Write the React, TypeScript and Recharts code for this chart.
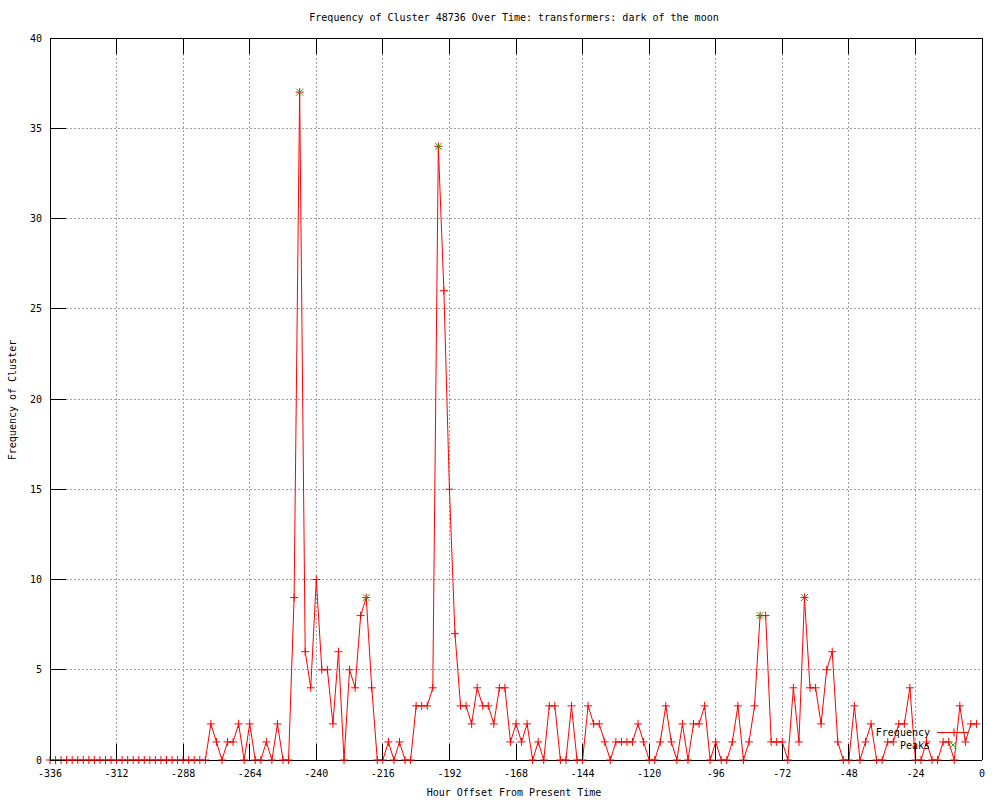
import React from 'react';
import { LineChart, Line, XAxis, YAxis, CartesianGrid, Legend } from 'recharts';

const hourOffsets = [
  -336, -334, -332, -330, -328, -326, -324, -322, -320, -318, -316, -314,
  -312, -310, -308, -306, -304, -302, -300, -298, -296, -294, -292, -290,
  -288, -286, -284, -282, -280, -278, -276, -274, -272, -270, -268, -266,
  -264, -262, -260, -258, -256, -254, -252, -250, -248, -246, -244, -242,
  -240, -238, -236, -234, -232, -230, -228, -226, -224, -222, -220, -218,
  -216, -214, -212, -210, -208, -206, -204, -202, -200, -198, -196, -194,
  -192, -190, -188, -186, -184, -182, -180, -178, -176, -174, -172, -170,
  -168, -166, -164, -162, -160, -158, -156, -154, -152, -150, -148, -146,
  -144, -142, -140, -138, -136, -134, -132, -130, -128, -126, -124, -122,
  -120, -118, -116, -114, -112, -110, -108, -106, -104, -102, -100, -98,
  -96, -94, -92, -90, -88, -86, -84, -82, -80, -78, -76, -74,
  -72, -70, -68, -66, -64, -62, -60, -58, -56, -54, -52, -50,
  -48, -46, -44, -42, -40, -38, -36, -34, -32, -30, -28, -26,
  -24, -22, -20, -18, -16, -14, -12, -10, -8, -6, -4, -2,
];

const frequency = [
  0, 0, 0, 0, 0, 0, 0, 0, 0, 0, 0, 0,
  0, 0, 0, 0, 0, 0, 0, 0, 0, 0, 0, 0,
  0, 0, 0, 0, 0, 2, 1, 0, 1, 1, 2, 0,
  2, 0, 0, 1, 0, 2, 0, 0, 9, 37, 6, 4,
  10, 5, 5, 2, 6, 0, 5, 4, 8, 9, 4, 0,
  0, 1, 0, 1, 0, 0, 3, 3, 3, 4, 34, 26,
  15, 7, 3, 3, 2, 4, 3, 3, 2, 4, 4, 1,
  2, 1, 2, 0, 1, 0, 3, 3, 0, 0, 3, 0,
  0, 3, 2, 2, 1, 0, 1, 1, 1, 1, 2, 1,
  0, 0, 1, 3, 1, 0, 2, 0, 2, 2, 3, 0,
  1, 0, 0, 1, 3, 0, 1, 3, 8, 8, 1, 1,
  1, 0, 4, 1, 9, 4, 4, 2, 5, 6, 1, 0,
  0, 3, 0, 1, 2, 0, 0, 1, 1, 2, 2, 4,
  0, 0, 1, 0, 0, 1, 1, 0, 3, 1, 2, 2,
];

const peakHours = [-246, -222, -196, -80, -64];
const peakValues = [37, 9, 34, 8, 9];

const xTicks = [-336, -312, -288, -264, -240, -216, -192, -168, -144, -120, -96, -72, -48, -24, 0];
const yTicks = [0, 5, 10, 15, 20, 25, 30, 35, 40];

const data = hourOffsets.map((h, i) => {
  const pi = peakHours.indexOf(h);
  return { h, freq: frequency[i], peak: pi >= 0 ? peakValues[pi] : null };
});

const FONT = '"DejaVu Sans Mono", "Liberation Mono", monospace';
const RED = '#ff0000';
const GREEN = '#00c000';
const TICK_LEN = 16;

const PlusDot = (props: any) => {
  const { cx, cy, value } = props;
  if (cx == null || cy == null || value == null || Number.isNaN(cy)) return null;
  return (
    <path
      d={`M${cx - 4},${cy}H${cx + 4}M${cx},${cy - 4}V${cy + 4}`}
      stroke={RED}
      strokeWidth={1}
      fill="none"
    />
  );
};

const CrossDot = (props: any) => {
  const { cx, cy, value } = props;
  if (cx == null || cy == null || value == null || Number.isNaN(cy)) return null;
  return (
    <path
      d={`M${cx - 3.5},${cy - 3.5}L${cx + 3.5},${cy + 3.5}M${cx - 3.5},${cy + 3.5}L${cx + 3.5},${cy - 3.5}`}
      stroke={GREEN}
      strokeWidth={1}
      fill="none"
    />
  );
};

const BottomTick = (props: any) => {
  const { x, y, payload } = props;
  return (
    <g>
      <line x1={x} y1={y} x2={x} y2={y - TICK_LEN} stroke="#000" strokeWidth={1} shapeRendering="crispEdges" />
      <text x={x} y={y + 17} textAnchor="middle" fontFamily={FONT} fontSize={10} fill="#000">
        {payload.value}
      </text>
    </g>
  );
};

const TopTick = (props: any) => {
  const { x, y } = props;
  return <line x1={x} y1={y} x2={x} y2={y + TICK_LEN} stroke="#000" strokeWidth={1} shapeRendering="crispEdges" />;
};

const LeftTick = (props: any) => {
  const { x, y, payload } = props;
  return (
    <g>
      <line x1={x} y1={y} x2={x + TICK_LEN} y2={y} stroke="#000" strokeWidth={1} shapeRendering="crispEdges" />
      <text x={x - 8} y={y + 3.5} textAnchor="end" fontFamily={FONT} fontSize={10} fill="#000">
        {payload.value}
      </text>
    </g>
  );
};

const RightTick = (props: any) => {
  const { x, y } = props;
  return <line x1={x} y1={y} x2={x - TICK_LEN} y2={y} stroke="#000" strokeWidth={1} shapeRendering="crispEdges" />;
};

const LegendBox = () => (
  <svg width={130} height={30} style={{ display: 'block', overflow: 'visible' }}>
    <text x={70} y={12} textAnchor="end" fontFamily={FONT} fontSize={10} fill="#000">
      Frequency
    </text>
    <line x1={77} y1={8.5} x2={108} y2={8.5} stroke={RED} strokeWidth={1} />
    <path d="M90,8.5H98M94,4.5V12.5" stroke={RED} strokeWidth={1} fill="none" />
    <text x={70} y={25} textAnchor="end" fontFamily={FONT} fontSize={10} fill="#000">
      Peaks
    </text>
    <path d="M89.5,17.5L96.5,24.5M89.5,24.5L96.5,17.5" stroke={GREEN} strokeWidth={1} fill="none" />
  </svg>
);

const textStyle: React.CSSProperties = {
  position: 'absolute',
  fontFamily: FONT,
  fontSize: 10,
  lineHeight: '12px',
  whiteSpace: 'nowrap',
  color: '#000',
};

const axisLineStyle = { stroke: '#000', shapeRendering: 'crispEdges' } as any;

export default function App() {
  return (
    <div style={{ position: 'absolute', left: 0, top: 0, width: 1000, height: 800, background: '#fff' }}>
      <LineChart width={1000} height={800} data={data} margin={{ top: 0, right: 0, bottom: 0, left: 0 }}>
        <CartesianGrid stroke="#a0a0a0" strokeDasharray="2 2" shapeRendering="crispEdges" />
        <XAxis
          dataKey="h"
          type="number"
          domain={[-336, 0]}
          ticks={xTicks}
          interval={0}
          height={40}
          tickSize={0}
          tickMargin={0}
          tickLine={false}
          axisLine={axisLineStyle}
          tick={<BottomTick />}
        />
        <XAxis
          xAxisId="top"
          orientation="top"
          dataKey="h"
          type="number"
          domain={[-336, 0]}
          ticks={xTicks}
          interval={0}
          height={38}
          tickSize={0}
          tickMargin={0}
          tickLine={false}
          axisLine={axisLineStyle}
          tick={<TopTick />}
        />
        <YAxis
          type="number"
          domain={[0, 40]}
          ticks={yTicks}
          interval={0}
          width={50}
          tickSize={0}
          tickMargin={0}
          tickLine={false}
          axisLine={axisLineStyle}
          tick={<LeftTick />}
        />
        <YAxis
          yAxisId="right"
          orientation="right"
          type="number"
          domain={[0, 40]}
          ticks={yTicks}
          interval={0}
          width={18}
          tickSize={0}
          tickMargin={0}
          tickLine={false}
          axisLine={axisLineStyle}
          tick={<RightTick />}
        />
        <Line
          type="linear"
          dataKey="freq"
          name="Frequency"
          stroke={RED}
          strokeWidth={1}
          dot={<PlusDot />}
          activeDot={false}
          isAnimationActive={false}
        />
        <Line
          type="linear"
          dataKey="peak"
          name="Peaks"
          stroke="none"
          dot={<CrossDot />}
          activeDot={false}
          connectNulls={false}
          isAnimationActive={false}
        />
        <Legend
          layout="horizontal"
          verticalAlign="middle"
          align="center"
          wrapperStyle={{ left: 860, top: 724, width: 130, height: 30 }}
          content={() => <LegendBox />}
        />
      </LineChart>
      <div style={{ ...textStyle, left: 514, top: 12, transform: 'translateX(-50%)' }}>
        Frequency of Cluster 48736 Over Time: transformers: dark of the moon
      </div>
      <div style={{ ...textStyle, left: 514, top: 787, transform: 'translateX(-50%)' }}>
        Hour Offset From Present Time
      </div>
      <div
        style={{
          ...textStyle,
          left: 13,
          top: 400,
          transform: 'translate(-50%, -50%) rotate(-90deg)',
        }}
      >
        Frequency of Cluster
      </div>
    </div>
  );
}
